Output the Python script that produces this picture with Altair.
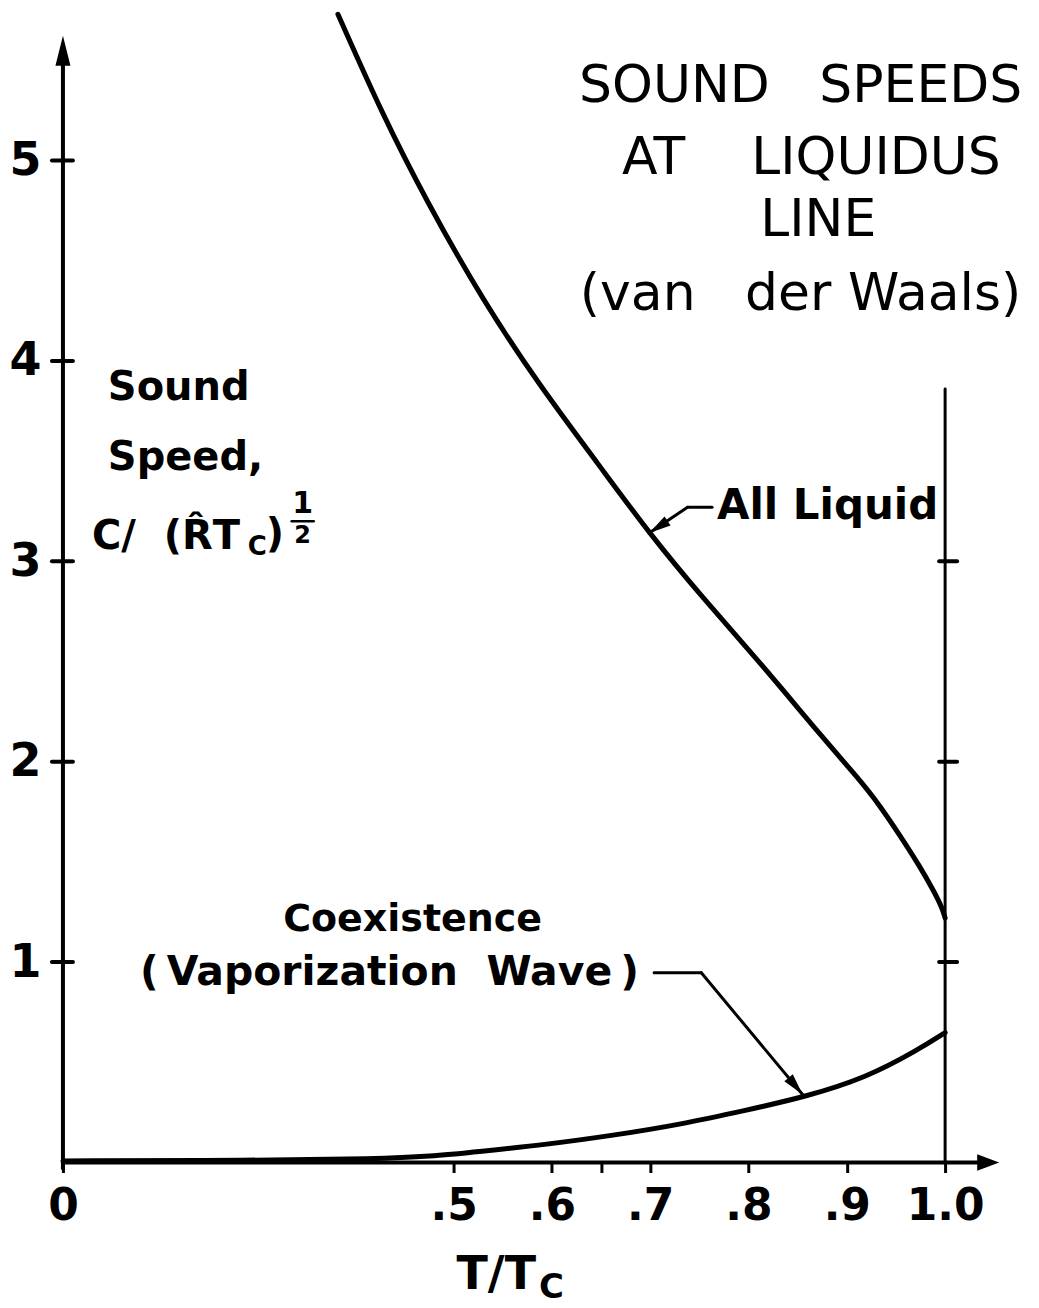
import altair as alt
import pandas as pd

# ---------------- data ----------------
# "All Liquid" curve:  T/Tc  vs  C/(R Tc)^1/2
liquid_t = [0.352, 0.409, 0.465, 0.530, 0.587, 0.648, 0.699, 0.753, 0.811, 0.872, 0.913, 0.933, 0.953, 0.974, 0.989, 0.997, 1.000]
liquid_c = [5.73, 5.23, 4.80, 4.30, 3.88, 3.48, 3.14, 2.82, 2.50, 2.14, 1.91, 1.785, 1.64, 1.48, 1.35, 1.27, 1.22]

# "Coexistence (Vaporization Wave)" curve
coex_t = [0.0, 0.24, 0.405, 0.469, 0.526, 0.595, 0.662, 0.730, 0.796, 0.859, 0.920, 0.971, 1.0]
coex_c = [0.008, 0.010, 0.018, 0.030, 0.055, 0.090, 0.135, 0.189, 0.259, 0.329, 0.424, 0.558, 0.648]

# axis ticks / labels
x_tick_values = [0, 0.5, 0.6, 0.65, 0.7, 0.8, 0.9, 1.0]
x_tick_text = ["0", ".5", ".6", "", ".7", ".8", ".9", "1.0"]
y_tick_values = [1, 2, 3, 4, 5]
right_tick_values = [1, 2, 3]

NB = "\u00a0"
title_lines = ["SOUND" + NB * 3 + "SPEEDS", "AT" + NB * 4 + "LIQUIDUS", "LINE",
               "(van" + NB * 3 + "der" + NB + "Waals)"]

# ---------------- tables ----------------
curves = pd.concat([
    pd.DataFrame({"x": liquid_t, "y": liquid_c, "series": "All Liquid"}),
    pd.DataFrame({"x": coex_t, "y": coex_c, "series": "Coexistence"}),
])

rules = []
rules.append(dict(x=0, x2=0, y=-0.03, y2=5.48, w=4))            # y axis
rules.append(dict(x=0, x2=1.036, y=0, y2=0, w=4))               # x axis
rules.append(dict(x=1.0, x2=1.0, y=0, y2=3.86, w=3))            # T/Tc = 1 line
for v in y_tick_values:
    rules.append(dict(x=-0.0141, x2=0.0128, y=v, y2=v, w=4))
for v in right_tick_values:
    rules.append(dict(x=0.9939, x2=1.0122, y=v, y2=v, w=4))
# leaders
rules.append(dict(x=0.763, x2=0.738, y=3.270, y2=3.270, w=3))
rules.append(dict(x=0.738, x2=0.699, y=3.270, y2=3.141, w=3))
rules.append(dict(x=0.704, x2=0.752, y=0.947, y2=0.947, w=3))
rules.append(dict(x=0.752, x2=0.855, y=0.947, y2=0.339, w=3))
# fraction bar of the exponent 1/2
rules.append(dict(x=0.2928, x2=0.321, y=3.200, y2=3.200, w=2.5))
rules = pd.DataFrame(rules)

arrows = pd.DataFrame([
    dict(x=0.0, y=5.623, angle=0, shape="M0,0L0.5,2L-0.5,2Z", size=900),
    dict(x=1.055, y=0.0, angle=90, shape="M0,0L0.75,2L-0.75,2Z", size=484),
    dict(x=0.699, y=3.141, angle=236.6, shape="M0,0L0.5,2L-0.5,2Z", size=484),
    dict(x=0.855, y=0.339, angle=140.4, shape="M0,0L0.5,2L-0.5,2Z", size=484),
])

text_left = pd.DataFrame([
    dict(text="Sound", x=0.0575, y=3.863, size=40),
    dict(text="Speed,", x=0.0575, y=3.514, size=40),
    dict(text="C/" + NB + NB + "(R\u0302T", x=0.0371, y=3.121, size=40),
    dict(text="C", x=0.2366, y=3.071, size=26),
    dict(text=")", x=0.2596, y=3.13, size=40),
    dict(text="All Liquid", x=0.768, y=3.275, size=42),
    dict(text="T/T", x=0.503, y=-0.563, size=46),
    dict(text="C", x=0.587, y=-0.625, size=34),
])

text_center = pd.DataFrame([
    dict(text="Coexistence", x=0.4476, y=1.211, size=38),
    dict(text="(\u2009Vaporization" + NB + NB + "Wave\u2009)", x=0.418, y=0.947, size=41),
    dict(text="1", x=0.3069, y=3.285, size=30),
    dict(text="2", x=0.3069, y=3.128, size=24),
])

title_df = pd.DataFrame(dict(
    text=title_lines,
    x=[0.853, 0.864, 0.871, 0.853],
    y=[5.374, 5.015, 4.701, 4.332],
    size=[52, 52, 52, 52],
))

# ---------------- scales ----------------
FONT = "DejaVu Sans"
xscale = alt.Scale(domain=[0, 0.5, 1.065], range=[0, 391, 947], nice=False, zero=False)
yscale = alt.Scale(domain=[0, 5.758], nice=False, zero=False)

label_expr = "{}[indexof({}, datum.value)]".format(
    "[" + ",".join("'" + s + "'" for s in x_tick_text) + "]",
    "[" + ",".join(str(v) for v in x_tick_values) + "]",
)

x_axis = alt.Axis(values=x_tick_values, labelExpr=label_expr, domain=False, grid=False,
                  tickSize=10, tickWidth=3, tickColor="black", labelFont=FONT,
                  labelFontWeight="bold", labelFontSize=44, labelColor="black",
                  labelPadding=12, title=None, labelFlush=False, labelOverlap=False,
                  labelBound=False)
y_axis = alt.Axis(values=y_tick_values, format="d", domain=False, grid=False, ticks=False,
                  labelFont=FONT, labelFontWeight="bold", labelFontSize=46,
                  labelColor="black", labelPadding=22, title=None, labelFlush=False,
                  labelOverlap=False, labelBound=False)

X = alt.X("x:Q", scale=xscale)
Y = alt.Y("y:Q", scale=yscale)

curve_layer = alt.Chart(curves).mark_line(
    color="black", strokeWidth=5, interpolate="basis", strokeCap="round"
).encode(
    x=alt.X("x:Q", scale=xscale, axis=x_axis),
    y=alt.Y("y:Q", scale=yscale, axis=y_axis),
    detail="series:N",
)

rule_layer = alt.Chart(rules).mark_rule(color="black", strokeCap="round").encode(
    x=X, x2="x2:Q", y=Y, y2="y2:Q",
    size=alt.Size("w:Q", scale=None, legend=None),
)

arrow_layer = alt.Chart(arrows).mark_point(filled=True, color="black", opacity=1, strokeWidth=0).encode(
    x=X, y=Y,
    shape=alt.Shape("shape:N", scale=None, legend=None),
    angle=alt.Angle("angle:Q", scale=None),
    size=alt.Size("size:Q", scale=None, legend=None),
)

left_text_layer = alt.Chart(text_left).mark_text(
    align="left", baseline="middle", font=FONT, fontWeight="bold", color="black"
).encode(
    x=X, y=Y, text="text:N",
    size=alt.Size("size:Q", scale=None, legend=None),
)

center_text_layer = alt.Chart(text_center).mark_text(
    align="center", baseline="middle", font=FONT, fontWeight="bold", color="black"
).encode(
    x=X, y=Y, text="text:N",
    size=alt.Size("size:Q", scale=None, legend=None),
)

title_layer = alt.Chart(title_df).mark_text(
    align="center", baseline="middle", font=FONT, fontWeight="normal", color="black"
).encode(
    x=X, y=Y, text="text:N",
    size=alt.Size("size:Q", scale=None, legend=None),
)

chart = alt.layer(
    curve_layer, rule_layer, arrow_layer, left_text_layer, center_text_layer, title_layer
).properties(
    width=947, height=1155,
    autosize=alt.AutoSizeParams(type="none"),
    padding={"left": 55, "top": 0, "right": 22, "bottom": 145},
    background="white",
).configure_view(stroke=None)

chart.save("out.html", embed_options={"renderer": "svg", "actions": False})
